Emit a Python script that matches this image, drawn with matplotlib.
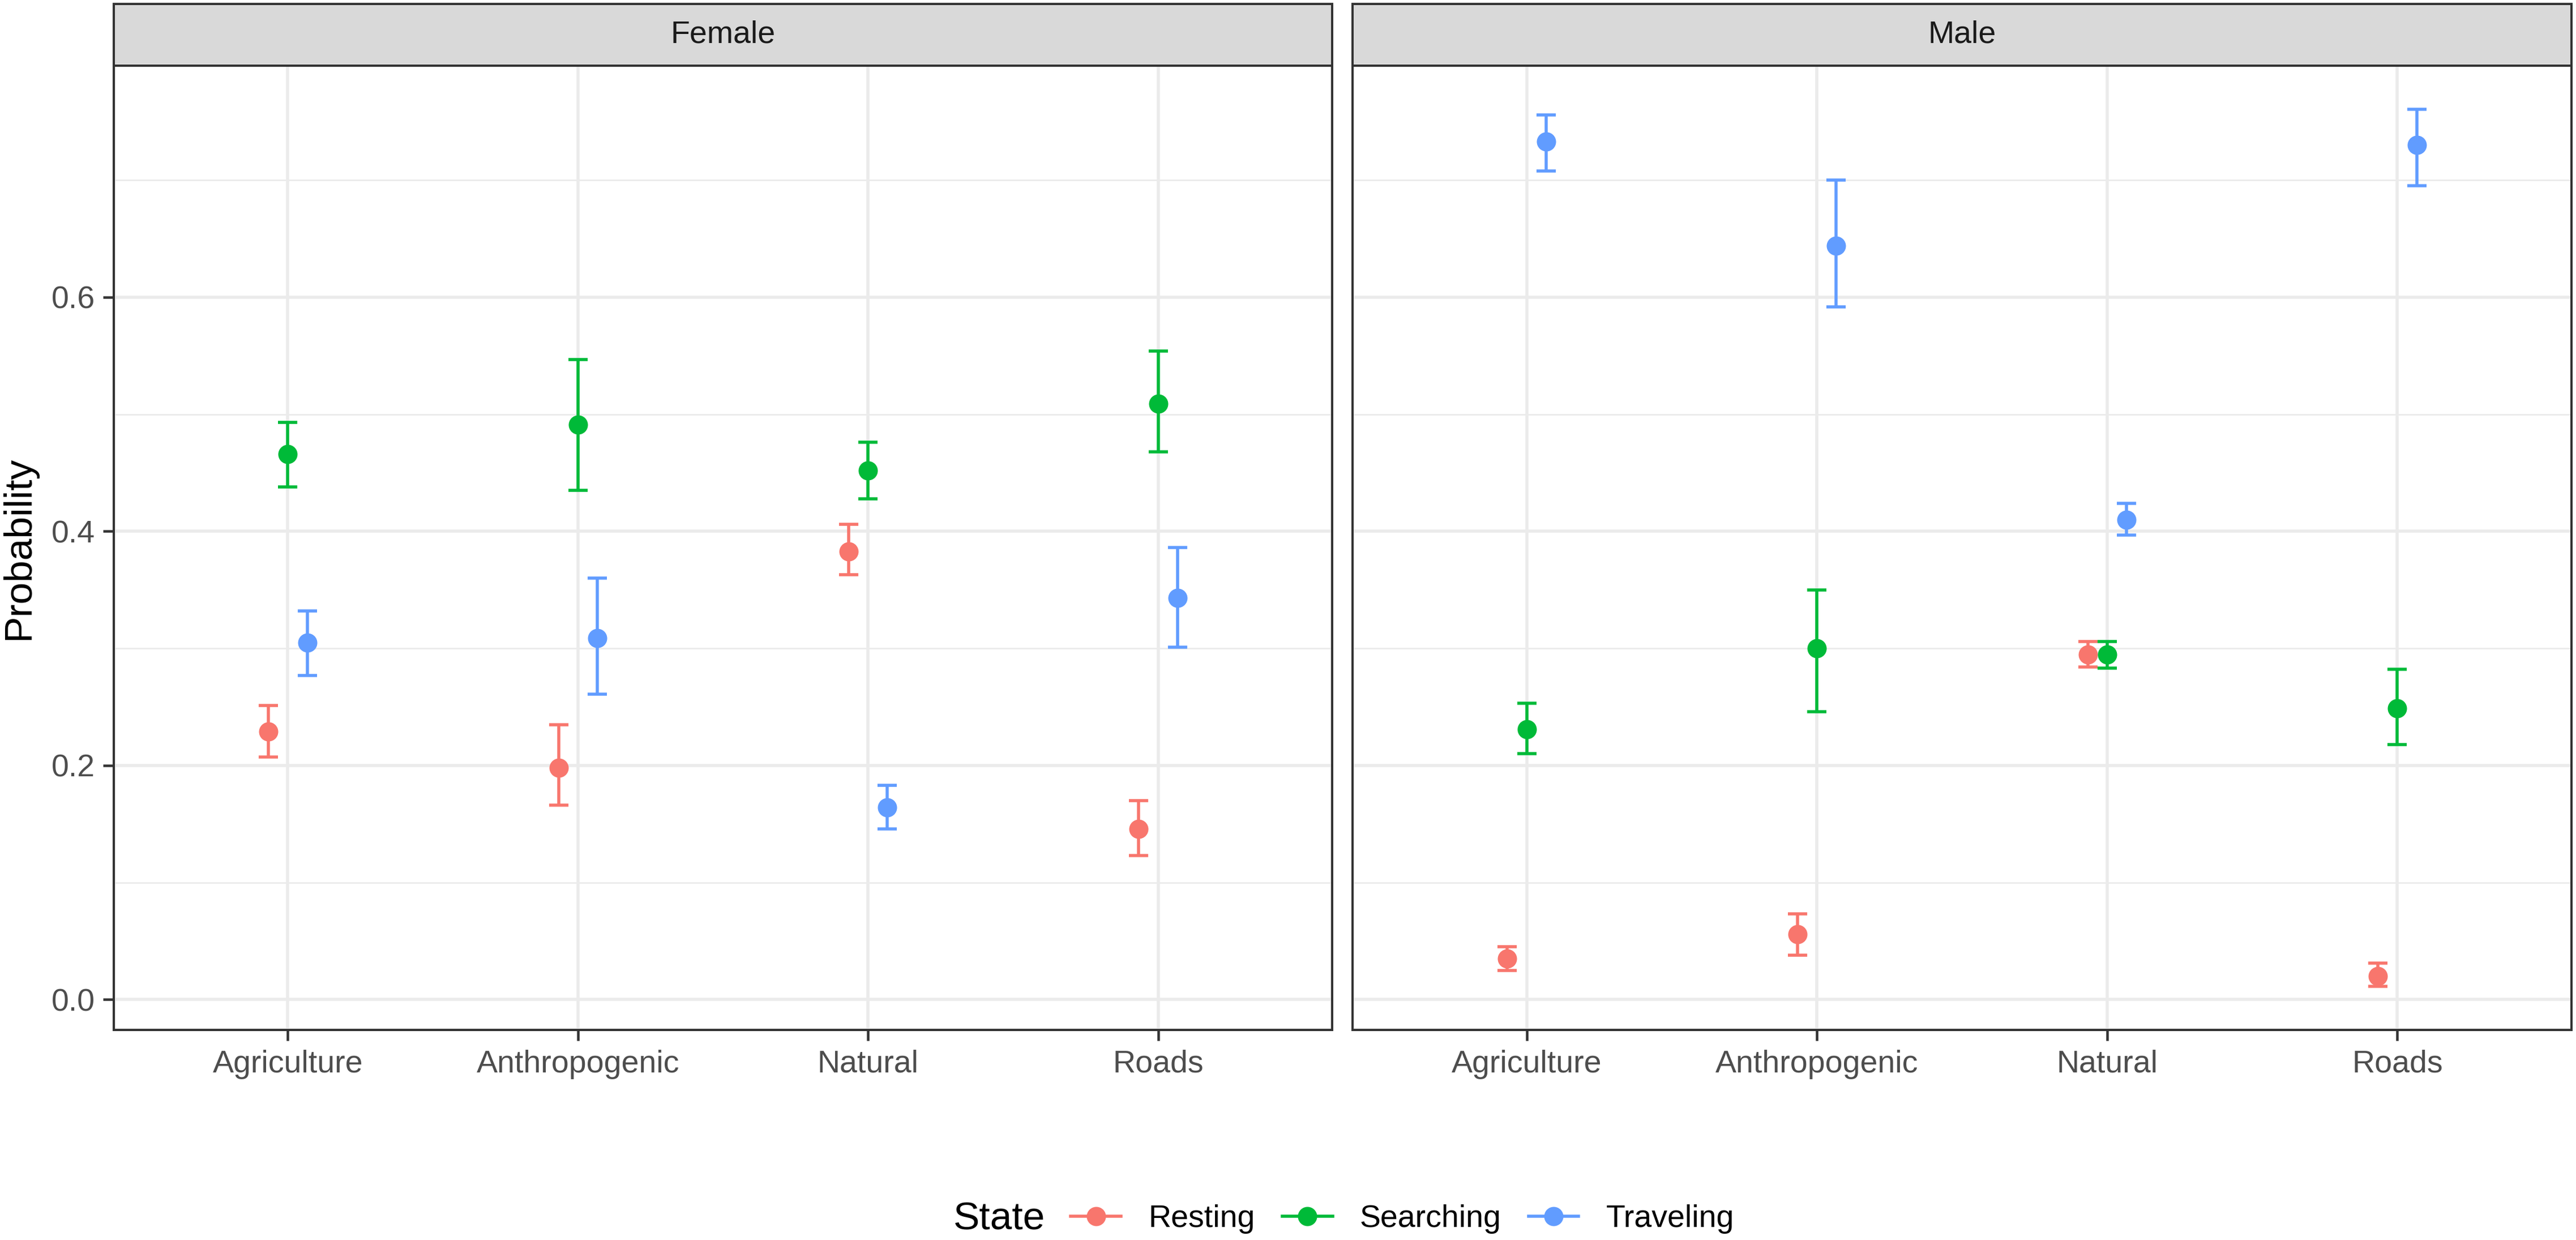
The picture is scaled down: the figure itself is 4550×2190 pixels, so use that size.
import matplotlib
matplotlib.use("Agg")
import matplotlib.pyplot as plt
from matplotlib.lines import Line2D
import numpy as np

plt.rcParams['font.family'] = ['Liberation Sans', 'DejaVu Sans']

categories = ["Agriculture", "Anthropogenic", "Natural", "Roads"]
states = ["Resting", "Searching", "Traveling"]
colors = ["#F8766D", "#00BA38", "#619CFF"]
panels = ["Female", "Male"]

# Female
f_rest = [0.229, 0.198, 0.383, 0.146]
f_rest_lo = [0.207, 0.166, 0.363, 0.123]
f_rest_hi = [0.251, 0.235, 0.406, 0.170]
f_search = [0.466, 0.491, 0.452, 0.509]
f_search_lo = [0.438, 0.435, 0.428, 0.468]
f_search_hi = [0.493, 0.547, 0.476, 0.554]
f_trav = [0.305, 0.309, 0.164, 0.343]
f_trav_lo = [0.277, 0.261, 0.146, 0.301]
f_trav_hi = [0.332, 0.360, 0.183, 0.386]

# Male
m_rest = [0.035, 0.056, 0.295, 0.020]
m_rest_lo = [0.025, 0.038, 0.284, 0.0115]
m_rest_hi = [0.045, 0.073, 0.306, 0.031]
m_search = [0.231, 0.300, 0.295, 0.249]
m_search_lo = [0.210, 0.246, 0.283, 0.218]
m_search_hi = [0.253, 0.350, 0.306, 0.282]
m_trav = [0.733, 0.644, 0.410, 0.730]
m_trav_lo = [0.708, 0.592, 0.397, 0.6955]
m_trav_hi = [0.756, 0.700, 0.424, 0.7604]

data = {
    "Female": [(f_rest, f_rest_lo, f_rest_hi), (f_search, f_search_lo, f_search_hi), (f_trav, f_trav_lo, f_trav_hi)],
    "Male": [(m_rest, m_rest_lo, m_rest_hi), (m_search, m_search_lo, m_search_hi), (m_trav, m_trav_lo, m_trav_hi)],
}

W, H = 4550, 2190
DPI = 100
fig = plt.figure(figsize=(W / DPI, H / DPI), dpi=DPI)
fig.patch.set_facecolor("white")

# y range with ggplot-like 5% expansion
all_lo = min(min(v[1]) for p in data.values() for v in p)
all_hi = max(max(v[2]) for p in data.values() for v in p)
rng = all_hi - all_lo
ylim = (all_lo - 0.05 * rng, all_hi + 0.05 * rng)

px = lambda v: v * 72.0 / DPI  # pixels -> points

panel_x = [(201, 2353), (2389, 4542)]
panel_top, panel_bot = 116, 1819
strip_top = 7

dodge = 0.2
offsets = [-dodge / 3, 0, dodge / 3]
xs = np.arange(1, len(categories) + 1)

grid_col = "#EBEBEB"
border_col = "#333333"

for pi, name in enumerate(panels):
    x0, x1 = panel_x[pi]
    ax = fig.add_axes([x0 / W, 1 - panel_bot / H, (x1 - x0) / W, (panel_bot - panel_top) / H])
    ax.set_xlim(0.4, len(categories) + 0.6)
    ax.set_ylim(*ylim)
    ax.set_facecolor("white")
    # grid
    for yv in [0.1, 0.3, 0.5, 0.7]:
        ax.axhline(yv, color=grid_col, lw=px(2.8), zorder=0)
    for yv in [0.0, 0.2, 0.4, 0.6]:
        ax.axhline(yv, color=grid_col, lw=px(5.5), zorder=0)
    for xv in xs:
        ax.axvline(xv, color=grid_col, lw=px(5.5), zorder=0)

    for si, (vals, lo, hi) in enumerate(data[name]):
        v = np.array(vals)
        l = np.array(lo)
        h = np.array(hi)
        ax.errorbar(xs + offsets[si], v, yerr=[v - l, h - v], fmt='none',
                    ecolor=colors[si], elinewidth=px(5.5), capsize=px(17), capthick=px(5.5), zorder=2)
        ax.plot(xs + offsets[si], v, 'o', color=colors[si], markersize=px(34),
                markeredgewidth=0, zorder=3)

    for sp in ax.spines.values():
        sp.set_color(border_col)
        sp.set_linewidth(px(4))
    ax.set_xticks(xs)
    ax.set_xticklabels(categories)
    ax.tick_params(axis='x', length=px(19), width=px(4.5), color=border_col,
                   labelsize=40, labelcolor="#4D4D4D", pad=px(16))
    if pi == 0:
        ax.set_yticks([0.0, 0.2, 0.4, 0.6])
        ax.set_yticklabels(["0.0", "0.2", "0.4", "0.6"])
        ax.tick_params(axis='y', length=px(19), width=px(4.5), color=border_col,
                       labelsize=40, labelcolor="#4D4D4D", pad=px(14))
    else:
        ax.set_yticks([])

    # strip
    sax = fig.add_axes([x0 / W, 1 - panel_top / H, (x1 - x0) / W, (panel_top - strip_top) / H])
    sax.set_xlim(0, 1)
    sax.set_ylim(0, 1)
    sax.set_facecolor("#D9D9D9")
    sax.set_xticks([])
    sax.set_yticks([])
    for sp in sax.spines.values():
        sp.set_color(border_col)
        sp.set_linewidth(px(4))
    sax.text(0.5, 0.5, name, ha='center', va='center', fontsize=40, color="#1A1A1A")

# y axis title
fig.text(33 / W, 1 - ((panel_top + panel_bot) / 2) / H, "Probability", rotation=90,
         ha='center', va='center', fontsize=50, color='black')

# legend
handles = [Line2D([0], [0], color=c, lw=px(5.5), marker='o', markersize=px(34),
                  markeredgewidth=0) for c in colors]
leg = fig.legend(handles, states, loc='center', ncol=3,
                 bbox_to_anchor=(2477 / W, 1 - 2153 / H), frameon=False,
                 fontsize=40, handlelength=1.6, handletextpad=0.86,
                 columnspacing=0.87, borderpad=0, borderaxespad=0)
fig.text(1684 / W, 1 - 2153 / H, "State", ha='left', va='center', fontsize=50, color='black')

fig.savefig("out.png", dpi=DPI, facecolor="white")
